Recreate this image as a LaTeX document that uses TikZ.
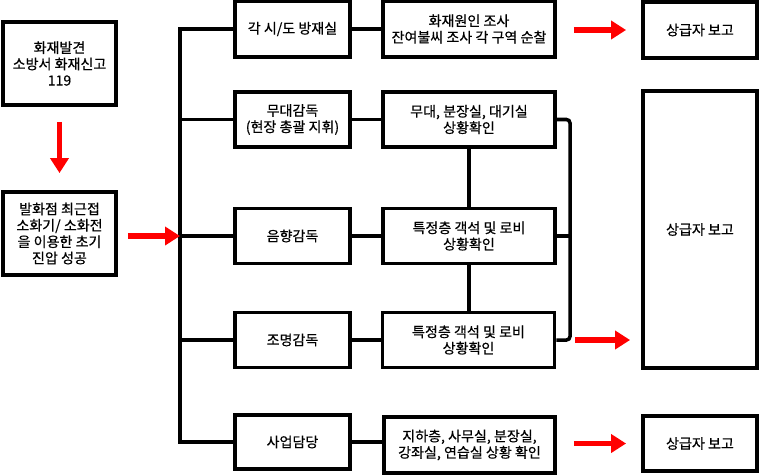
\documentclass[tikz,border=0pt]{standalone}
\usepackage{fontspec}
\setmainfont{Noto Sans CJK KR}[FakeBold=0.5]
\usepackage{tikz}
\usetikzlibrary{arrows.meta}

\begin{document}
\begin{tikzpicture}[x=0.02cm,y=0.02cm]
            \tikzstyle{every node}+=[inner sep=0pt, font=\fontsize{8pt}{9.3pt}\selectfont, align=center]
            \tikzstyle{box}=[draw=black, line width=2.2pt, fill=white]
            \tikzstyle{link}=[black, line width=2pt]
            \tikzstyle{redarrow}=[red, line width=3.3pt, -{Triangle[length=0.3cm,width=0.36cm]}]
            \useasboundingbox (0,0) rectangle (760,-474);
            \node [box, minimum width=2.26cm, minimum height=1.66cm] (found) at (59.5,-63.5) {화재발견\\소방서 화재신고\\119};
            \node [box, minimum width=2.26cm, minimum height=1.66cm] (first) at (59.5,-233.5) {발화점 최근접\\소화기/ 소화전\\을 이용한 초기\\진압 성공};
            \node [box, minimum width=2.3cm, minimum height=1.12cm] (room) at (292.5,-29) {각 시/도 방재실};
            \node [box, minimum width=2.3cm, minimum height=1.1cm] (stage) at (292.5,-119.5) {무대감독\\(현장 총괄 지휘)};
            \node [box, minimum width=2.3cm, minimum height=1.1cm] (sound) at (292.5,-236) {음향감독};
            \node [box, minimum width=2.3cm, minimum height=1.1cm] (light) at (292.5,-340) {조명감독};
            \node [box, minimum width=2.3cm, minimum height=1.08cm] (biz) at (292.5,-442) {사업담당};
            \node [box, minimum width=3.44cm, minimum height=1.12cm] (cause) at (469,-29) {화재원인 조사\\잔여불씨 조사 각 구역 순찰};
            \node [box, minimum width=3.44cm, minimum height=1.1cm] (stagechk) at (469,-119.5) {무대, 분장실, 대기실\\상황확인};
            \node [box, minimum width=3.44cm, minimum height=1.1cm] (floorA) at (469,-236) {특정층 객석 및 로비\\상황확인};
            \node [box, minimum width=3.44cm, minimum height=1.1cm] (floorB) at (468.5,-340) {특정층 객석 및 로비\\상황확인};
            \node [box, minimum width=3.42cm, minimum height=1.12cm] (base) at (469.5,-445) {지하층, 사무실, 분장실,\\강좌실, 연습실 상황 확인};
            \node [box, minimum width=2.28cm, minimum height=1.12cm] (repA) at (700,-30) {상급자 보고};
            \node [box, minimum width=2.28cm, minimum height=5.54cm] (repB) at (700,-229.5) {상급자 보고};
            \node [box, minimum width=2.28cm, minimum height=1.1cm] (repC) at (700,-443.5) {상급자 보고};
            \coordinate (bus) at (180,0);
            \coordinate (brk) at (570,0);
            \draw [link] (room.west) -- (room.west -| bus) -- (biz.west -| bus) -- (biz.west);
            \foreach \n in {stage,sound,light}
                \draw [link] (\n.west) -- (\n.west -| bus);
            \draw [link] (room.east) -- (room.east -| cause.west);
            \draw [link] (stage.east) -- (stage.east -| stagechk.west);
            \draw [link] (sound.east) -- (sound.east -| floorA.west);
            \draw [link] (light.east) -- (light.east -| floorB.west);
            \draw [link] (biz.east) -- (biz.east -| base.west);
            \draw [link] (stagechk.south -| floorA.north) -- (floorA.north);
            \draw [link] (floorA.south) -- (floorA.south |- floorB.north);
            \draw [link, rounded corners=2pt] (stagechk.east) -- (stagechk.east -| brk) -- (floorB.east -| brk) -- (floorB.east);
            \draw [link] (floorA.east) -- (floorA.east -| brk);
            \draw [redarrow] ([yshift=-0.3cm]found.south) -- ([yshift=0.34cm]first.north);
            \draw [redarrow] ([xshift=0.2cm]first.east |- sound.west) -- (sound.west -| bus);
            \draw [redarrow] ([xshift=0.34cm]cause.east |- repA.west) -- ([xshift=-0.3cm]repA.west);
            \draw [redarrow] ([xshift=0.1cm]floorB.east -| brk) -- ([xshift=-0.22cm]floorB.east -| repB.west);
            \draw [redarrow] ([xshift=0.34cm]base.east |- repC.west) -- ([xshift=-0.3cm]repC.west);
        \end{tikzpicture}
\end{document}
